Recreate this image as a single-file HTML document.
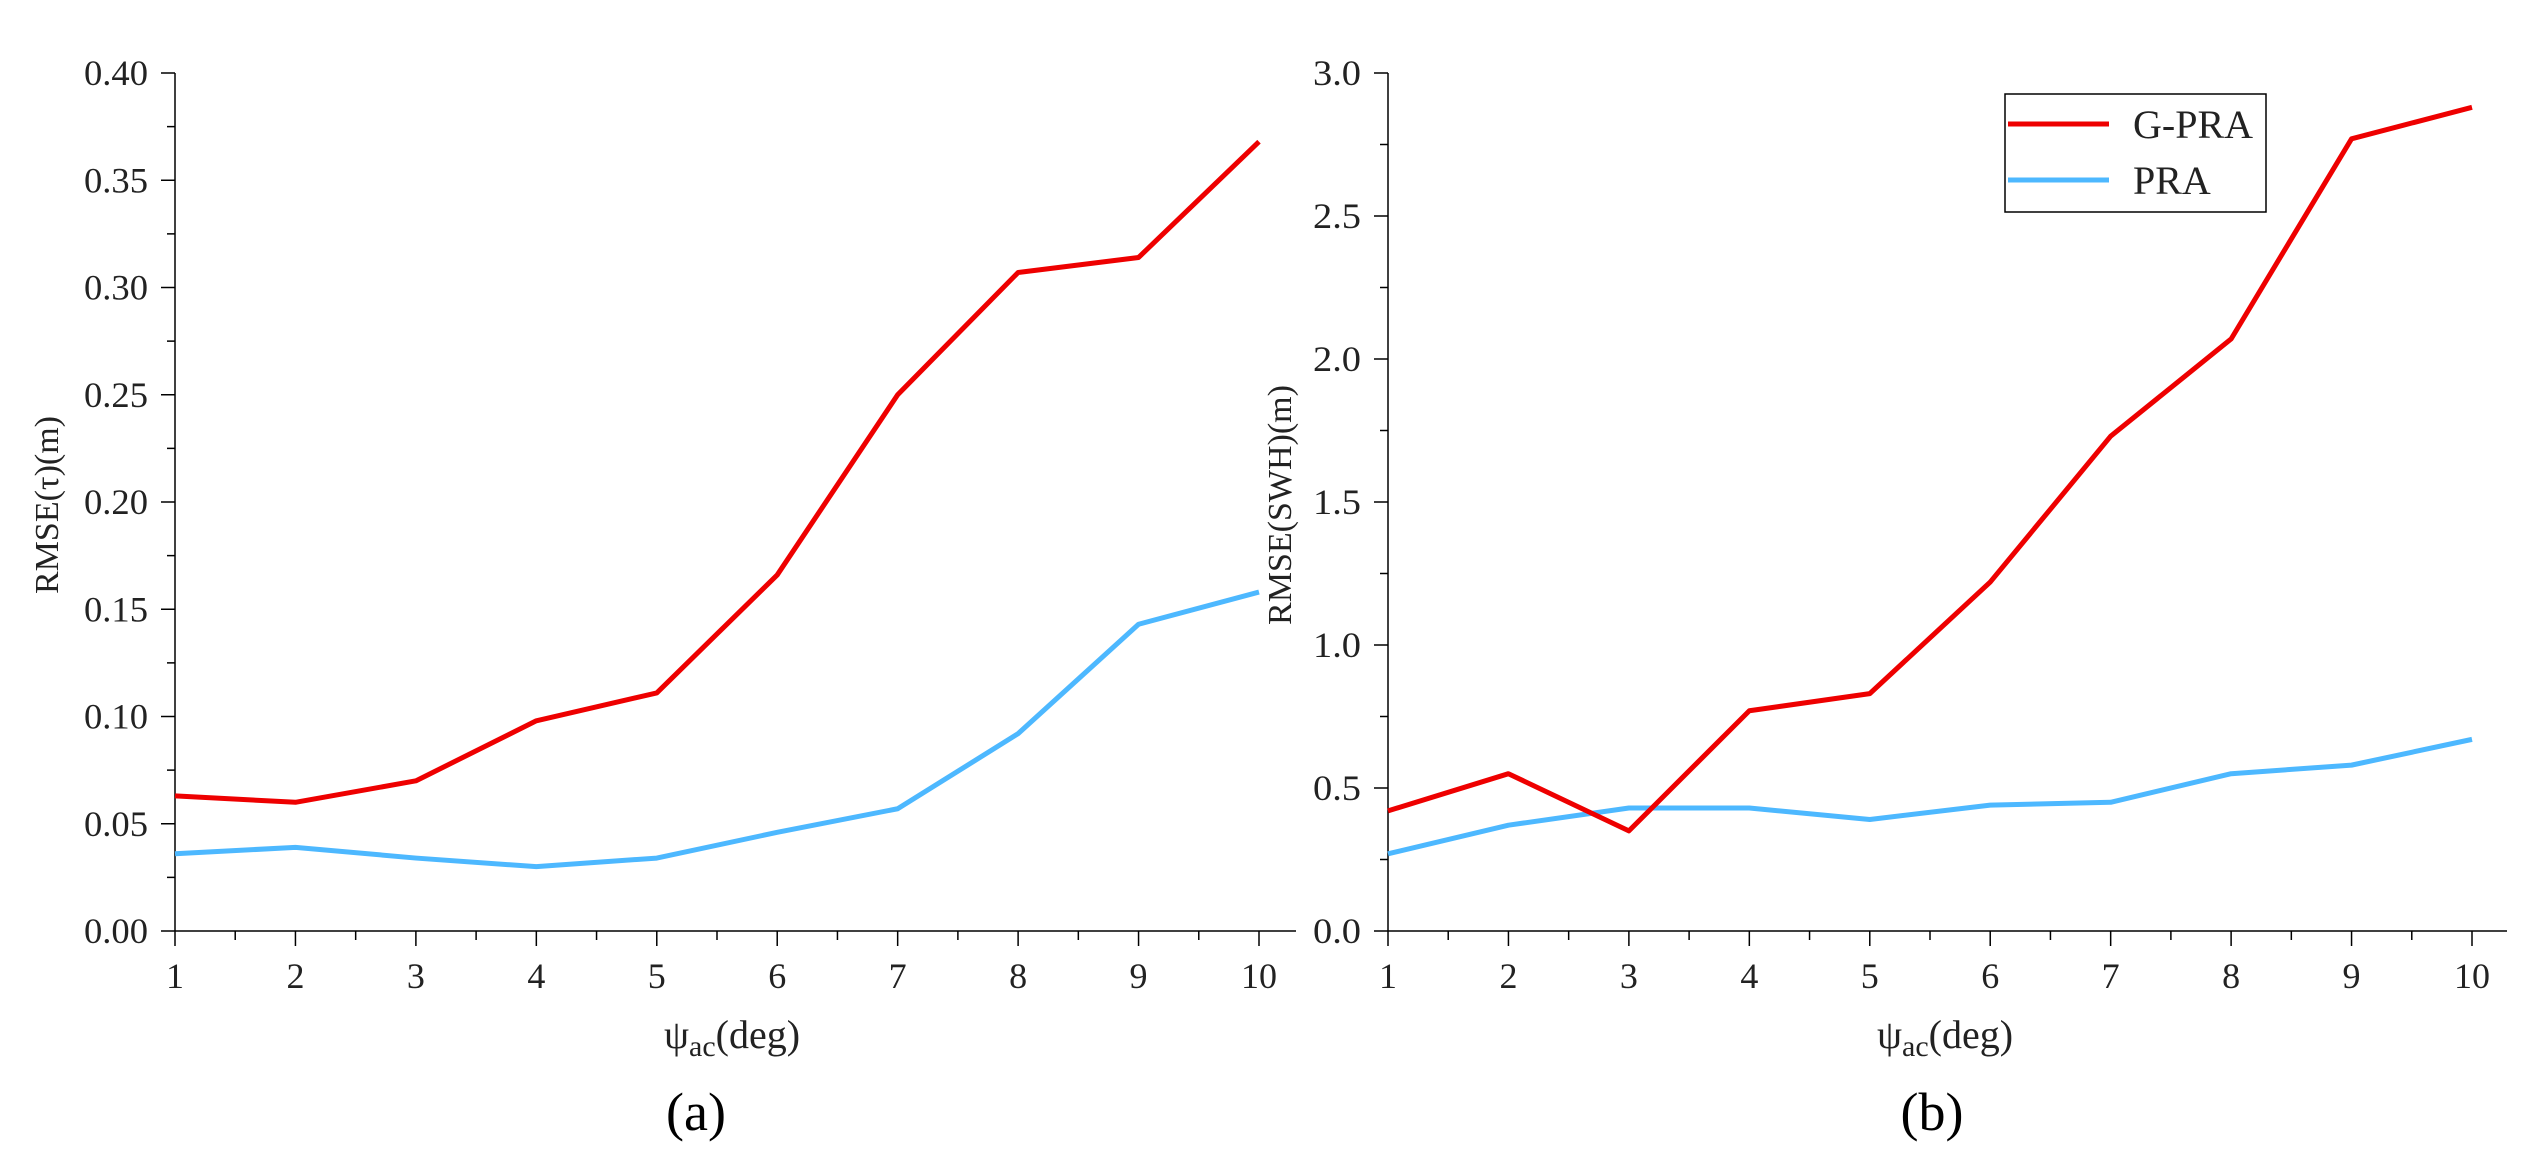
<!DOCTYPE html>
<html><head><meta charset="utf-8"><style>
html,body{margin:0;padding:0;background:#fff;}
svg{display:block;font-family:"Liberation Serif","Noto Serif CJK SC",serif;}
</style></head><body>
<svg id="fig" width="2530" height="1158" viewBox="0 0 2530 1158"></svg>
<script>
const xCats = [1,2,3,4,5,6,7,8,9,10];
const tauGPRA = [0.063,0.060,0.070,0.098,0.111,0.166,0.250,0.307,0.314,0.368];
const tauPRA  = [0.036,0.039,0.034,0.030,0.034,0.046,0.057,0.092,0.143,0.158];
const swhGPRA = [0.42,0.55,0.35,0.77,0.83,1.22,1.73,2.07,2.77,2.88];
const swhPRA  = [0.27,0.37,0.43,0.43,0.39,0.44,0.45,0.55,0.58,0.67];
const tauTicks = ["0.00","0.05","0.10","0.15","0.20","0.25","0.30","0.35","0.40"];
const swhTicks = ["0.0","0.5","1.0","1.5","2.0","2.5","3.0"];

const NS="http://www.w3.org/2000/svg";
const svg=document.getElementById('fig');
function el(tag,attrs,parent){const e=document.createElementNS(NS,tag);for(const k in attrs)e.setAttribute(k,attrs[k]);(parent||svg).appendChild(e);return e;}

function panel(o){
  const g=el('g',{});
  
  
  const X0=o.x0,X10=o.x10,XEnd=o.xend,Y0=931,YT=73;
  const xs=v=>X0+(v-1)*(X10-X0)/9;
  const ymax=parseFloat(o.ticks[o.ticks.length-1]);
  const ys=v=>Y0-v/ymax*(Y0-YT);
  const ax=el('line',{x1:X0,y1:Y0,x2:XEnd,y2:Y0,stroke:'#000','stroke-width':1.5},g);
  
  const ay=el('line',{x1:X0,y1:Y0,x2:X0,y2:YT,stroke:'#000','stroke-width':1.5},g);
  
  // y ticks
  const n=o.ticks.length;
  for(let i=0;i<n;i++){
    const v=parseFloat(o.ticks[i]),y=ys(v);
    el('line',{x1:X0-14,y1:y,x2:X0,y2:y,stroke:'#000','stroke-width':1.5},g);
    if(i<n-1){const ym=ys(v+ymax/(n-1)/2);el('line',{x1:X0-8,y1:ym,x2:X0,y2:ym,stroke:'#000','stroke-width':1.5},g);}
    const t=el('text',{x:X0-27,y:y+12,'font-size':36,'text-anchor':'end',fill:'#222',textLength:o.ticks[i].length*16,lengthAdjust:'spacingAndGlyphs'},g);
    t.textContent=o.ticks[i];
    
    
  }
  // x ticks
  for(let i=0;i<xCats.length;i++){
    const x=xs(xCats[i]);
    el('line',{x1:x,y1:Y0,x2:x,y2:Y0+15,stroke:'#000','stroke-width':1.5},g);
    if(i<xCats.length-1){const xm=xs(xCats[i]+0.5);el('line',{x1:xm,y1:Y0,x2:xm,y2:Y0+9,stroke:'#000','stroke-width':1.5},g);}
    const t=el('text',{x:x,y:988,'font-size':36,'text-anchor':'middle',fill:'#222'},g);
    t.textContent=String(xCats[i]);
    
    
  }
  function series(vals,color,name){
    const p=el('polyline',{points:vals.map((v,i)=>xs(xCats[i])+','+ys(v)).join(' '),fill:'none',stroke:color,'stroke-width':5,'stroke-linejoin':'round'},g);
    
    
  }
  series(o.pra,'#4db8ff','pra-line');
  series(o.gpra,'#ee0000','g-pra-line');
  // y title
  const yt=el('text',{x:0,y:0,'font-size':34,'text-anchor':'middle',fill:'#222',transform:`translate(${o.ytx},505) rotate(-90)`},g);
  yt.textContent=o.ytitle;
  
  
  // x title
  const xt=el('text',{x:o.xtc,y:1048,'font-size':40,'text-anchor':'middle',fill:'#222'},g);
  xt.innerHTML='ψ<tspan font-size="30" dy="8">ac</tspan><tspan dy="-8">(deg)</tspan>';
  
  
  const cap=el('text',{x:o.capx,y:1130,'font-size':54,'text-anchor':'middle',fill:'#000'},g);
  cap.textContent=o.cap;
  
  
}
panel({name:'panel-a',x0:175,x10:1259,xend:1296,ticks:tauTicks,gpra:tauGPRA,pra:tauPRA,ytitle:'RMSE(τ)(m)',ytx:58,xtc:732,capx:696,cap:'(a)'});
panel({name:'panel-b',x0:1388,x10:2472,xend:2507,ticks:swhTicks,gpra:swhGPRA,pra:swhPRA,ytitle:'RMSE(SWH)(m)',ytx:1291,xtc:1945,capx:1932,cap:'(b)'});

// legend
const lg=el('g',{});


el('rect',{x:2005,y:94,width:261,height:118,fill:'#fff',stroke:'#000','stroke-width':1.5},lg);
el('line',{x1:2008,y1:124,x2:2109,y2:124,stroke:'#ee0000','stroke-width':5},lg);
el('line',{x1:2008,y1:180,x2:2109,y2:180,stroke:'#4db8ff','stroke-width':5},lg);
const l1=el('text',{x:2133,y:138,'font-size':40,fill:'#222'},lg);
l1.textContent='G-PRA';


const l2=el('text',{x:2133,y:194,'font-size':40,fill:'#222'},lg);
l2.textContent='PRA';


</script>
</body></html>
